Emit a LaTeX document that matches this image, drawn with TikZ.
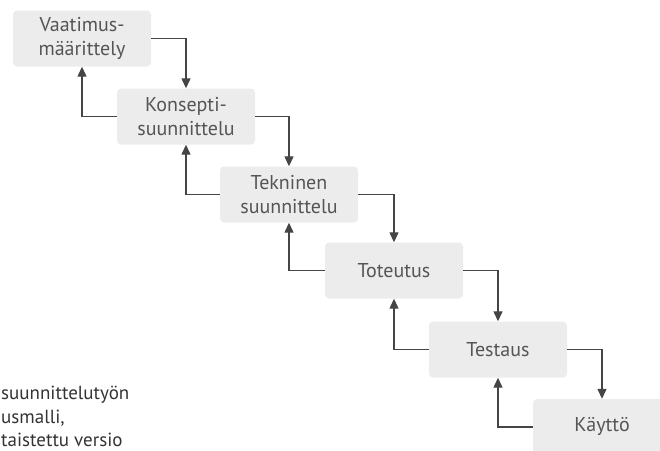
\documentclass[tikz,border=0pt]{standalone}
\usepackage{fontspec}
\setmainfont{PT Sans}
\usetikzlibrary{arrows.meta}
\definecolor{boxgray}{HTML}{ECECEC}
\definecolor{linegray}{HTML}{454545}
\definecolor{textgray}{HTML}{555555}

\begin{document}
\begin{tikzpicture}[x=1pt,y=-1pt,
    phase/.style={fill=boxgray, rounded corners=4pt, minimum width=138pt, minimum height=56pt,
      align=center, text=textgray, font=\fontsize{20}{24}\selectfont},
    flow/.style={draw=linegray, line width=1.3pt, -{Triangle[length=10pt,width=9pt]}},
    caption/.style={anchor=base west, inner sep=0pt, text=black!80, font=\fontsize{19}{24}\selectfont}]
    \useasboundingbox (0,0) rectangle (660,450);
    \clip (0,0) rectangle (660,450);
    \node[phase] (vaat) at (82, 38.5) {Vaatimus-\\määrittely};
    \node[phase] (kons) at (186, 116.5) {Konsepti-\\suunnittelu};
    \node[phase] (tekn) at (289, 194.5) {Tekninen\\suunnittelu};
    \node[phase] (tote) at (394, 270.5) {Toteutus};
    \node[phase] (test) at (498, 349.5) {Testaus};
    \node[phase] (kayt) at (602, 427) {Käyttö};
    \draw[flow] (vaat.east) -| (kons.north);
    \draw[flow] (kons.east) -| (tekn.north);
    \draw[flow] (tekn.east) -| (tote.north);
    \draw[flow] (tote.east) -| (test.north);
    \draw[flow] (test.east) -| (kayt.north);
    \draw[flow] (kons.west) -| (vaat.south);
    \draw[flow] (tekn.west) -| (kons.south);
    \draw[flow] (tote.west) -| (tekn.south);
    \draw[flow] (test.west) -| (tote.south);
    \draw[flow] (kayt.west) -| (test.south);
    \node[caption] (cap1) at (1, 399) {suunnittelutyön};
    \node[caption] (cap2) at (1, 423) {usmalli,};
    \node[caption] (cap3) at (1, 446) {taistettu versio};
\end{tikzpicture}
\end{document}
